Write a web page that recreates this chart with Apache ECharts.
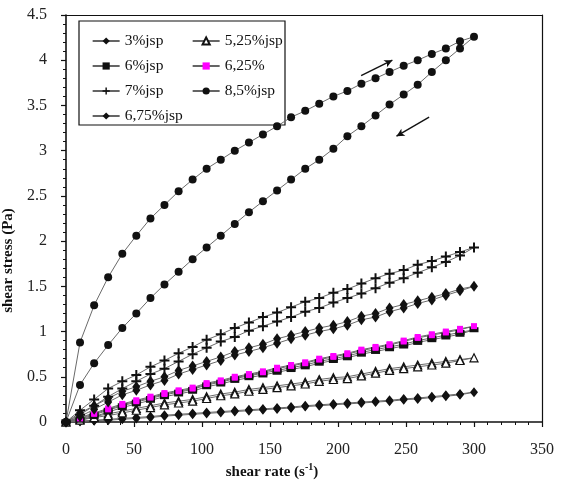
<!DOCTYPE html>
<html>
<head>
<meta charset="utf-8">
<script src="https://cdn.jsdelivr.net/npm/echarts@6/dist/echarts.min.js"></script>
<style>
html, body { margin: 0; padding: 0; background: #fff; }
#tubiao { width: 577px; height: 496px; }
</style>
</head>
<body>
<div id="tubiao"></div>
<script>
// shear rate (s-1) of each reading, same for every sample
var shearRate = [0, 10.3, 20.7, 31, 41.4, 51.7, 62.1, 72.4, 82.8, 93.1, 103.4, 113.8, 124.1, 134.5, 144.8,
	155.2, 165.5, 175.9, 186.2, 196.6, 206.9, 217.2, 227.6, 237.9, 248.3, 258.6, 269, 279.3, 289.7, 300];

// shear stress (Pa): rising branch and returning branch
var s3Up = [0, 0.01, 0.02, 0.03, 0.04, 0.05, 0.06, 0.075, 0.085, 0.095, 0.105, 0.115, 0.125, 0.135, 0.145, 0.155, 0.165, 0.18, 0.19, 0.20, 0.21, 0.22, 0.23, 0.24, 0.255, 0.265, 0.28, 0.295, 0.31, 0.33];
var s3Down = [0, 0.005, 0.015, 0.02, 0.03, 0.04, 0.05, 0.065, 0.075, 0.085, 0.095, 0.105, 0.115, 0.125, 0.135, 0.145, 0.155, 0.17, 0.18, 0.19, 0.20, 0.21, 0.22, 0.23, 0.245, 0.255, 0.27, 0.285, 0.30, 0.33];
var s525Up = [0, 0.03, 0.06, 0.09, 0.12, 0.15, 0.18, 0.21, 0.23, 0.25, 0.28, 0.31, 0.33, 0.36, 0.38, 0.40, 0.42, 0.44, 0.47, 0.49, 0.50, 0.53, 0.56, 0.59, 0.61, 0.63, 0.65, 0.67, 0.69, 0.71];
var s525Down = [0, 0.02, 0.05, 0.07, 0.10, 0.13, 0.16, 0.19, 0.21, 0.23, 0.26, 0.29, 0.31, 0.34, 0.36, 0.38, 0.40, 0.42, 0.45, 0.47, 0.48, 0.51, 0.54, 0.57, 0.59, 0.61, 0.63, 0.65, 0.68, 0.71];
var s6Up = [0, 0.03, 0.08, 0.13, 0.18, 0.22, 0.26, 0.30, 0.33, 0.36, 0.41, 0.44, 0.48, 0.51, 0.54, 0.57, 0.60, 0.63, 0.67, 0.70, 0.73, 0.77, 0.80, 0.83, 0.86, 0.90, 0.93, 0.96, 0.99, 1.02];
var s6Down = [0, 0.02, 0.06, 0.11, 0.16, 0.20, 0.24, 0.28, 0.31, 0.34, 0.39, 0.42, 0.46, 0.49, 0.52, 0.55, 0.58, 0.61, 0.65, 0.68, 0.71, 0.75, 0.78, 0.81, 0.84, 0.88, 0.91, 0.94, 0.97, 1.02];
var s625Up = [0, 0.05, 0.10, 0.15, 0.20, 0.24, 0.28, 0.32, 0.35, 0.38, 0.43, 0.46, 0.50, 0.53, 0.56, 0.60, 0.63, 0.66, 0.70, 0.73, 0.76, 0.80, 0.83, 0.86, 0.90, 0.94, 0.97, 1.00, 1.03, 1.06];
var s625Down = [0, 0.04, 0.09, 0.14, 0.19, 0.23, 0.27, 0.31, 0.34, 0.37, 0.42, 0.45, 0.49, 0.52, 0.55, 0.59, 0.62, 0.65, 0.69, 0.72, 0.75, 0.79, 0.82, 0.85, 0.89, 0.93, 0.96, 0.99, 1.02, 1.06];
var s675Up = [0, 0.10, 0.18, 0.26, 0.34, 0.39, 0.45, 0.50, 0.57, 0.62, 0.67, 0.72, 0.78, 0.82, 0.86, 0.92, 0.96, 1.00, 1.04, 1.07, 1.11, 1.17, 1.20, 1.26, 1.30, 1.34, 1.38, 1.42, 1.47, 1.50];
var s675Down = [0, 0.06, 0.14, 0.22, 0.30, 0.35, 0.41, 0.46, 0.53, 0.58, 0.63, 0.68, 0.74, 0.78, 0.82, 0.87, 0.92, 0.96, 1.00, 1.03, 1.07, 1.13, 1.16, 1.22, 1.26, 1.31, 1.35, 1.40, 1.45, 1.50];
var s7Up = [0, 0.13, 0.25, 0.37, 0.45, 0.52, 0.61, 0.68, 0.76, 0.83, 0.91, 0.97, 1.04, 1.10, 1.16, 1.21, 1.27, 1.33, 1.37, 1.43, 1.47, 1.53, 1.59, 1.64, 1.68, 1.74, 1.78, 1.83, 1.88, 1.93];
var s7Down = [0, 0.08, 0.18, 0.28, 0.37, 0.45, 0.53, 0.59, 0.67, 0.75, 0.82, 0.89, 0.94, 1.01, 1.06, 1.11, 1.16, 1.22, 1.26, 1.32, 1.37, 1.42, 1.48, 1.54, 1.59, 1.65, 1.71, 1.77, 1.84, 1.93];
var s85Up = [0, 0.88, 1.29, 1.60, 1.86, 2.06, 2.25, 2.40, 2.55, 2.68, 2.80, 2.90, 3.00, 3.09, 3.18, 3.27, 3.37, 3.44, 3.52, 3.60, 3.66, 3.74, 3.80, 3.87, 3.94, 4.00, 4.07, 4.13, 4.21, 4.26];
var s85Down = [0, 0.41, 0.65, 0.85, 1.04, 1.20, 1.37, 1.52, 1.66, 1.80, 1.93, 2.06, 2.19, 2.32, 2.44, 2.56, 2.68, 2.80, 2.90, 3.02, 3.16, 3.27, 3.39, 3.51, 3.62, 3.73, 3.87, 4.00, 4.13, 4.26];

var legendLeft = ['3%jsp', '6%jsp', '7%jsp', '6,75%jsp'];
var legendRight = ['5,25%jsp', '6,25%', '8,5%jsp'];

var xTicks = [0, 350, 50];   // min, max, interval
var yTicks = [0, 4.5, 0.5];

// go out along the up branch and come back along the down branch
function loop(up, down) {
	var pts = [];
	for (var i = 0; i < up.length; i++) pts.push([shearRate[i], up[i]]);
	for (var j = down.length - 2; j >= 0; j--) pts.push([shearRate[j], down[j]]);
	return pts;
}

var plusPath = 'path://M4,0H6V4H10V6H6V10H4V6H0V4H4Z';
var serif = 'Liberation Serif';

function curve(name, up, down, symbol, size, fill, border) {
	return {
		name: name,
		type: 'line',
		data: loop(up, down),
		symbol: symbol,
		symbolSize: size,
		symbolKeepAspect: true,
		showSymbol: true,
		lineStyle: { color: '#6a6a6a', width: 1 },
		itemStyle: { color: fill, borderColor: border || fill, borderWidth: border ? 1.2 : 0 },
		emphasis: { disabled: true },
		animation: false
	};
}

var myChart = echarts.init(document.getElementById('tubiao'));

var series = [
	curve('3%jsp', s3Up, s3Down, 'diamond', [8, 10], '#111'),
	curve('5,25%jsp', s525Up, s525Down, 'triangle', 8, '#fff', '#111'),
	curve('6%jsp', s6Up, s6Down, 'rect', [9, 5], '#111'),
	curve('6,25%', s625Up, s625Down, 'rect', 6, '#ff00ff'),
	curve('6,75%jsp', s675Up, s675Down, 'diamond', [8, 11], '#111'),
	curve('7%jsp', s7Up, s7Down, plusPath, 10, '#111'),
	curve('8,5%jsp', s85Up, s85Down, 'circle', 8, '#111')
];
// direction arrows next to the 8,5% loop
series[6].markLine = {
	silent: true,
	symbol: ['none', 'arrow'],
	symbolSize: [6, 8],
	label: { show: false },
	lineStyle: { color: '#111', width: 1.4, type: 'solid' },
	data: [
		[{ coord: [217, 3.83] }, { coord: [240, 4.0] }],
		[{ coord: [267, 3.37] }, { coord: [243, 3.16] }]
	]
};

var legendBase = {
	orient: 'vertical',
	itemWidth: 27,
	itemHeight: 9,
	itemGap: 9,
	textStyle: { fontFamily: serif, fontSize: 15.5, color: '#111' },
	lineStyle: { color: '#111', width: 1.3 },
	selectedMode: false
};

// top and right edges of the frame: bare axis lines
function frameAxis(pos, ticks) {
	return {
		type: 'value', position: pos, min: ticks[0], max: ticks[1], interval: ticks[2],
		axisLine: { show: true, onZero: false, lineStyle: { color: '#111', width: 1.2 } },
		axisTick: { show: false },
		axisLabel: { show: false },
		splitLine: { show: false }
	};
}

var option = {
	backgroundColor: '#fff',
	grid: { left: 66, right: 35, top: 15, bottom: 74, outerBoundsMode: 'none' },
	legend: [
		Object.assign({}, legendBase, { data: legendLeft, left: 87, top: 28 }),
		Object.assign({}, legendBase, { data: legendRight, left: 187, top: 28 })
	],
	graphic: [{
		type: 'rect',
		shape: { x: 79, y: 21, width: 206, height: 104 },
		style: { fill: null, stroke: '#111', lineWidth: 1.2 },
		silent: true
	}],
	xAxis: [
		{
			type: 'value', position: 'bottom', min: xTicks[0], max: xTicks[1], interval: xTicks[2],
			name: 'shear rate (s{sup|-1})',
			nameLocation: 'middle', nameGap: 40,
			nameTextStyle: {
				fontFamily: serif, fontSize: 15, fontWeight: 'bold', color: '#111', padding: [0, 64, 0, 0],
				rich: { sup: { fontFamily: serif, fontSize: 10, fontWeight: 'bold', color: '#111', verticalAlign: 'top', padding: [0, 0, 9, 0] } }
			},
			axisLine: { show: true, onZero: false, lineStyle: { color: '#111', width: 1.6 } },
			axisTick: { show: true, length: 5, lineStyle: { color: '#111', width: 1.2 } },
			minorTick: { show: true, splitNumber: 5, length: 3, lineStyle: { color: '#111', width: 1 } },
			axisLabel: { fontFamily: serif, fontSize: 16, color: '#222', margin: 20 },
			splitLine: { show: false }
		},
		frameAxis('top', xTicks)
	],
	yAxis: [
		{
			type: 'value', position: 'left', min: yTicks[0], max: yTicks[1], interval: yTicks[2],
			name: 'shear stress (Pa)',
			nameLocation: 'middle', nameGap: 38,
			nameTextStyle: { fontFamily: serif, fontSize: 15, fontWeight: 'bold', color: '#111', padding: [0, 84, 0, 0] },
			axisLine: { show: true, onZero: false, lineStyle: { color: '#111', width: 1.6 } },
			axisTick: { show: true, length: 5, lineStyle: { color: '#111', width: 1.2 } },
			minorTick: { show: true, splitNumber: 5, length: 3, lineStyle: { color: '#111', width: 1 } },
			axisLabel: { fontFamily: serif, fontSize: 16, color: '#222', margin: 19 },
			splitLine: { show: false }
		},
		frameAxis('right', yTicks)
	],
	series: series
};
myChart.setOption(option);
</script>
</body>
</html>
